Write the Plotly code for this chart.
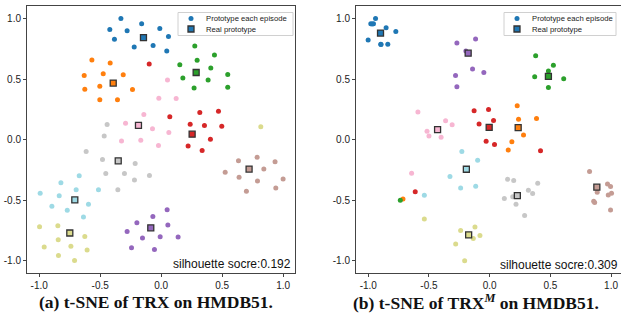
import plotly.graph_objects as go

# ---------------- data ----------------
tick_vals = [-1.0, -0.5, 0.0, 0.5, 1.0]
tick_text = ["-1.0", "-0.5", "0.0", "0.5", "1.0"]

class_names = ["blue", "orange", "green", "red", "purple",
               "brown", "pink", "gray", "olive", "cyan"]
class_colors = ["#1f77b4", "#ff7f0e", "#2ca02c", "#d62728", "#9467bd",
                "#c49c94", "#f7b6d2", "#c7c7c7", "#dbdb8d", "#9edae5"]

# (a) TRX -- episode prototypes per class
a_blue = [[-0.33, 1.00], [-0.16, 0.957], [-0.011, 0.916], [-0.421, 0.908], [-0.279, 0.899],
          [0.060, 0.851], [-0.383, 0.829], [-0.066, 0.777], [-0.221, 0.764], [0.046, 0.731]]
a_orange = [[-0.568, 0.658], [-0.418, 0.633], [-0.475, 0.543], [-0.631, 0.530], [-0.311, 0.535],
            [-0.503, 0.440], [-0.626, 0.416], [-0.235, 0.413], [-0.503, 0.329], [-0.358, 0.329]]
a_green = [[0.276, 0.772], [0.437, 0.698], [0.295, 0.655], [0.153, 0.617], [0.407, 0.592],
           [0.546, 0.538], [0.178, 0.508], [0.385, 0.492], [0.270, 0.427], [0.546, 0.432]]
a_red = [[-0.098, 0.625], [0.317, 0.223], [0.470, 0.234], [0.071, 0.188], [0.238, 0.128],
         [0.355, 0.117], [0.497, 0.111], [0.221, -0.052], [0.404, 0.003], [0.336, -0.090]]
a_purple = [[0.049, -0.579], [-0.068, -0.634], [-0.199, -0.686], [0.055, -0.705], [-0.279, -0.757],
            [-0.153, -0.811], [-0.008, -0.800], [0.139, -0.803], [-0.243, -0.891], [-0.055, -0.907]]
a_brown = [[0.787, -0.145], [0.634, -0.175], [0.934, -0.183], [0.525, -0.268], [0.842, -0.243],
           [0.639, -0.311], [0.790, -0.342], [1.000, -0.325], [0.699, -0.426], [0.940, -0.399]]
a_pink = [[0.052, 0.492], [-0.019, 0.342], [0.123, 0.340], [-0.142, 0.207], [-0.292, 0.136],
          [-0.071, 0.090], [0.063, 0.060], [-0.325, -0.011], [-0.167, -0.005], [-0.022, -0.049]]
a_gray = [[-0.443, 0.125], [-0.467, 0.030], [-0.615, -0.098], [-0.481, -0.164], [-0.213, -0.197],
          [-0.454, -0.279], [-0.301, -0.279], [-0.219, -0.333], [-0.096, -0.295], [-0.355, -0.413]]
a_olive = [[0.817, 0.106], [-0.997, -0.719], [-0.847, -0.710], [-0.844, -0.825], [-0.959, -0.885],
           [-0.740, -0.880], [-0.626, -0.798], [-0.607, -0.910], [-0.842, -0.956], [-0.710, -0.997]]
a_cyan = [[-0.672, -0.298], [-0.822, -0.355], [-0.992, -0.443], [-0.836, -0.462], [-0.697, -0.413],
          [-0.514, -0.413], [-0.596, -0.533], [-0.896, -0.549], [-0.770, -0.582], [-0.637, -0.639]]
# (a) real prototypes, same class order
a_real = [[-0.145, 0.842], [-0.393, 0.467], [0.287, 0.554], [0.254, 0.045], [-0.085, -0.727],
          [0.721, -0.243], [-0.186, 0.117], [-0.352, -0.175], [-0.749, -0.770], [-0.708, -0.497]]
a_score = "silhouette socre:0.192"

# (b) TRX^M -- episode prototypes per class
b_blue = [[-0.940, 1.000], [-0.979, 0.956], [-0.957, 0.956], [-0.968, 0.955], [-0.853, 0.923],
          [-0.773, 0.893], [-1.001, 0.821], [-0.897, 0.787], [-0.839, 0.787], [-0.895, 0.785]]
b_orange = [[0.227, 0.279], [0.238, 0.168], [0.386, 0.174], [0.279, 0.039], [0.183, -0.017],
            [0.153, -0.085], [-0.714, -0.489], [0.236, 0.100]]
b_green = [[0.379, 0.692], [0.525, 0.613], [0.484, 0.566], [0.371, 0.519], [0.610, 0.503],
           [0.484, 0.431], [-0.736, -0.500], [0.484, 0.525]]
b_red = [[-0.128, 0.238], [-0.009, 0.249], [0.032, 0.157], [-0.087, 0.130], [-0.029, -0.014],
         [0.040, -0.041], [0.419, -0.091], [-0.613, -0.429], [-0.004, 0.100]]
b_purple = [[-0.270, 0.798], [-0.116, 0.831], [-0.196, 0.732], [-0.141, 0.583], [-0.048, 0.553],
            [-0.281, 0.530], [-0.270, 0.437], [-0.177, 0.713]]
b_brown = [[0.823, -0.263], [0.971, -0.365], [0.996, -0.387], [0.886, -0.434], [0.977, -0.456],
           [1.004, -0.442], [0.857, -0.508], [0.865, -0.519], [0.996, -0.580], [0.883, -0.395]]
b_pink = [[-0.591, 0.228], [-0.363, 0.155], [-0.309, 0.122], [-0.516, 0.069], [-0.500, 0.030],
          [-0.400, 0.019], [-0.643, -0.277], [-0.429, 0.082]]
b_gray = [[0.148, -0.327], [0.198, -0.338], [0.396, -0.360], [0.319, -0.418], [0.354, -0.445],
          [0.121, -0.486], [0.190, -0.470], [0.217, -0.533], [0.288, -0.626], [0.228, -0.462]]
b_olive = [[-0.538, -0.654], [-0.121, -0.720], [-0.239, -0.750], [-0.080, -0.791], [-0.135, -0.816],
           [-0.280, -0.860], [-0.206, -0.999], [-0.173, -0.786]]
b_cyan = [[-0.229, -0.097], [-0.099, -0.170], [-0.327, -0.305], [-0.239, -0.398], [-0.115, -0.385],
          [-0.538, -0.459], [-0.192, -0.244]]
b_real = [[-0.899, 0.879], [0.235, 0.100], [0.484, 0.522], [-0.004, 0.102], [-0.177, 0.713],
          [0.883, -0.392], [-0.429, 0.082], [0.228, -0.462], [-0.173, -0.786], [-0.192, -0.244]]
b_score = "silhouette socre:0.309"

captions = ["(a) t-SNE of TRX on HMDB51.", "(b) t-SNE of TRX<sup><i>M</i></sup> on HMDB51."]
legend_labels = ["Prototype each episode", "Real prototype"]

a_points = [a_blue, a_orange, a_green, a_red, a_purple, a_brown, a_pink, a_gray, a_olive, a_cyan]
b_points = [b_blue, b_orange, b_green, b_red, b_purple, b_brown, b_pink, b_gray, b_olive, b_cyan]

# ---------------- figure ----------------
W, H = 621, 322
DOT, SQ, EDGE = 5, 6, "#333333"
fig = go.Figure()

panels = [
    (a_points, a_real, "x", "y"),
    (b_points, b_real, "x2", "y2"),
]
for pts_list, real, xr, yr in panels:
    for i, pts in enumerate(pts_list):
        fig.add_trace(go.Scatter(
            x=[p[0] for p in pts], y=[p[1] for p in pts], mode="markers",
            xaxis=xr, yaxis=yr, showlegend=False, name=legend_labels[0],
            marker=dict(size=DOT, color=class_colors[i], line=dict(width=0)),
            hoverinfo="skip"))
    fig.add_trace(go.Scatter(
        x=[p[0] for p in real], y=[p[1] for p in real], mode="markers",
        xaxis=xr, yaxis=yr, showlegend=False, name=legend_labels[1],
        marker=dict(size=SQ, symbol="square", color=class_colors[:len(real)],
                    line=dict(width=1.3, color=EDGE)),
        hoverinfo="skip"))

y_dom = [1 - 273 / H, 1 - 6.3 / H]
axis_common = dict(
    tickmode="array", tickvals=tick_vals, ticktext=tick_text,
    ticks="outside", ticklen=3, tickwidth=1, tickcolor="#444444",
    showline=True, linecolor="#444444", linewidth=1,
    showgrid=False, zeroline=False,
    tickfont=dict(family="Liberation Sans, Arial, sans-serif", size=10, color="#222222"),
)
fig.update_layout(
    width=W, height=H,
    margin=dict(l=0, r=0, t=0, b=0),
    paper_bgcolor="white", plot_bgcolor="white",
    xaxis=dict(domain=[27 / W, 295.3 / W], range=[-1.1, 1.1], anchor="y", mirror=True, **axis_common),
    yaxis=dict(domain=y_dom, range=[-1.1, 1.1], anchor="x", mirror=True, **axis_common),
    xaxis2=dict(domain=[356 / W, 1.0], range=[-1.101, 1.082], anchor="y2", mirror=True, **axis_common),
    yaxis2=dict(domain=y_dom, range=[-1.1, 1.1], anchor="x2", mirror=False, **axis_common),
    showlegend=False,
)


def px(x):
    return x / W


def py(y):
    return 1 - y / H


# hand-built legend boxes (matplotlib style: compact rows)
leg_font = dict(family="Liberation Sans, Arial, sans-serif", size=7.7, color="#222222")
for (bx0, bx1, by0, by1) in [(178, 293, 12.5, 35.5), (504, 616, 12.5, 35.5)]:
    fig.add_shape(type="rect", xref="paper", yref="paper",
                  x0=px(bx0), x1=px(bx1), y0=py(by1), y1=py(by0),
                  line=dict(color="#d0d0d0", width=1), fillcolor="rgba(255,255,255,0.85)",
                  layer="above")
    mx, r1, r2 = bx0 + 13, 18.5, 29
    fig.add_shape(type="circle", xref="paper", yref="paper",
                  x0=px(mx - DOT / 2), x1=px(mx + DOT / 2), y0=py(r1 + DOT / 2), y1=py(r1 - DOT / 2),
                  line=dict(width=0), fillcolor=class_colors[0], layer="above")
    fig.add_shape(type="rect", xref="paper", yref="paper",
                  x0=px(mx - SQ / 2), x1=px(mx + SQ / 2), y0=py(r2 + SQ / 2), y1=py(r2 - SQ / 2),
                  line=dict(width=1.3, color=EDGE), fillcolor=class_colors[0], layer="above")
    fig.add_annotation(text=legend_labels[0], xref="paper", yref="paper", x=px(bx0 + 26), y=py(r1),
                       xanchor="left", yanchor="middle", showarrow=False, font=leg_font)
    fig.add_annotation(text=legend_labels[1], xref="paper", yref="paper", x=px(bx0 + 26), y=py(r2),
                       xanchor="left", yanchor="middle", showarrow=False, font=leg_font)

score_font = dict(family="Liberation Sans, Arial, sans-serif", size=12, color="#111111")
fig.add_annotation(text=a_score, xref="paper", yref="paper", x=px(293), y=py(264),
                   xanchor="right", yanchor="middle", showarrow=False, font=score_font)
fig.add_annotation(text=b_score, xref="paper", yref="paper", x=px(620), y=py(264.5),
                   xanchor="right", yanchor="middle", showarrow=False, font=score_font)

cap_font = dict(family="Liberation Serif, Times New Roman, serif", size=17.5, color="#111111")
fig.add_annotation(text="<b>" + captions[0] + "</b>", xref="paper", yref="paper",
                   x=px(156), y=py(302), xanchor="center", yanchor="middle",
                   showarrow=False, font=cap_font)
fig.add_annotation(text="<b>" + captions[1] + "</b>", xref="paper", yref="paper",
                   x=px(476), y=py(302), xanchor="center", yanchor="middle",
                   showarrow=False, font=cap_font)

fig.write_html("out.html", config={"displayModeBar": False},
               post_script="document.body.style.margin='0px';")
